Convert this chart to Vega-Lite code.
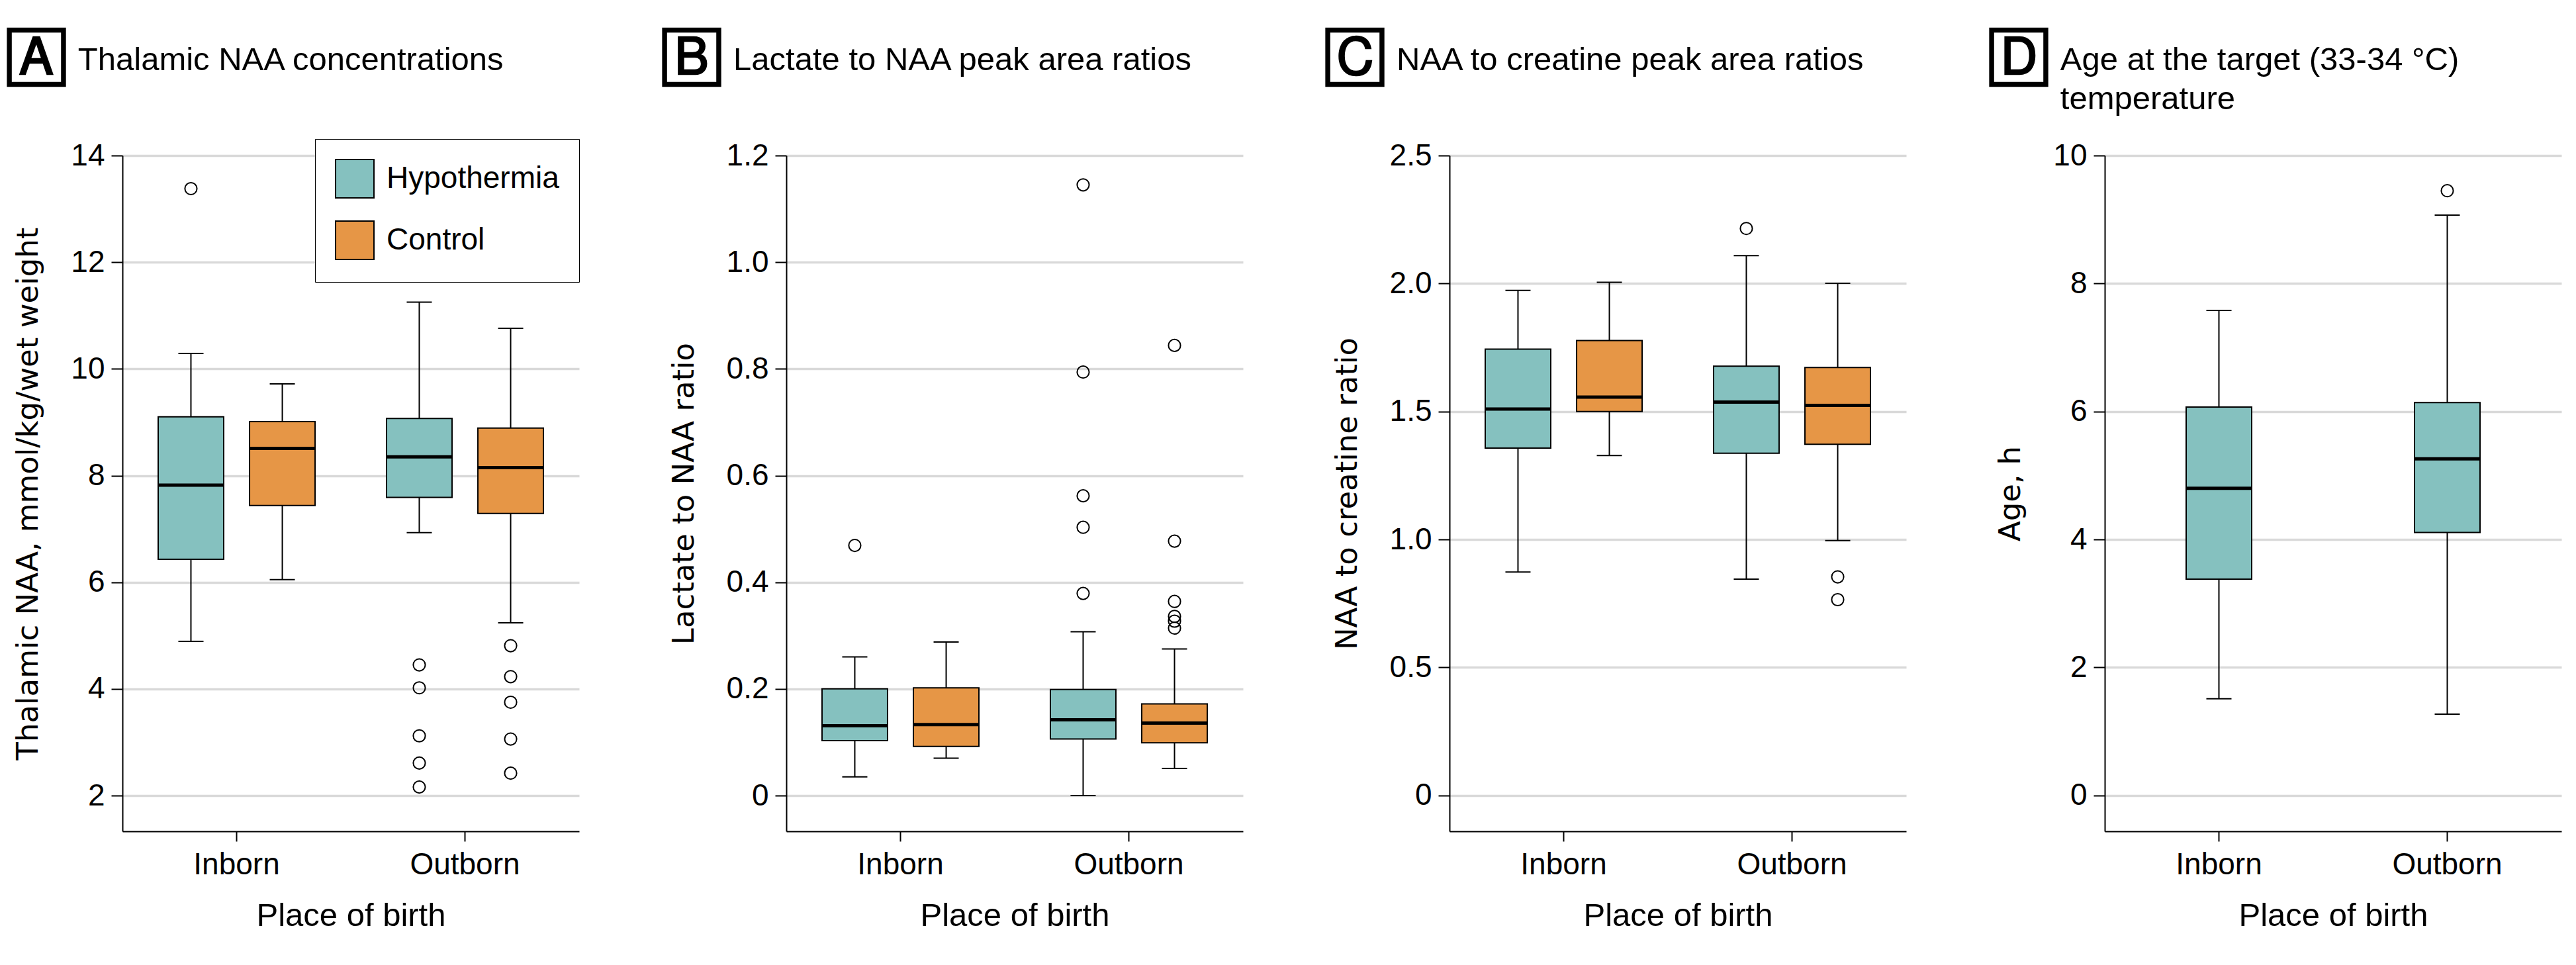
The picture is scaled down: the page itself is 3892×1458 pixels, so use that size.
{
  "$schema": "https://vega.github.io/schema/vega-lite/v6.json",
  "background": "white",
  "padding": {"left": 12, "top": 50, "right": 10, "bottom": 10},
  "datasets": {
    "boxes": [
      {"panel": "A", "place": "Inborn", "group": "Hypothermia", "min": 4.89, "q1": 6.43, "median": 7.82, "q3": 9.10, "max": 10.29},
      {"panel": "A", "place": "Inborn", "group": "Control", "min": 6.05, "q1": 7.44, "median": 8.51, "q3": 9.01, "max": 9.72},
      {"panel": "A", "place": "Outborn", "group": "Hypothermia", "min": 6.93, "q1": 7.59, "median": 8.35, "q3": 9.07, "max": 11.25},
      {"panel": "A", "place": "Outborn", "group": "Control", "min": 5.24, "q1": 7.29, "median": 8.15, "q3": 8.89, "max": 10.76},
      {"panel": "B", "place": "Inborn", "group": "Hypothermia", "min": 0.035, "q1": 0.103, "median": 0.131, "q3": 0.200, "max": 0.260},
      {"panel": "B", "place": "Inborn", "group": "Control", "min": 0.070, "q1": 0.092, "median": 0.133, "q3": 0.202, "max": 0.288},
      {"panel": "B", "place": "Outborn", "group": "Hypothermia", "min": 0.000, "q1": 0.106, "median": 0.142, "q3": 0.199, "max": 0.307},
      {"panel": "B", "place": "Outborn", "group": "Control", "min": 0.051, "q1": 0.099, "median": 0.136, "q3": 0.172, "max": 0.275},
      {"panel": "C", "place": "Inborn", "group": "Hypothermia", "min": 0.873, "q1": 1.357, "median": 1.510, "q3": 1.744, "max": 1.973},
      {"panel": "C", "place": "Inborn", "group": "Control", "min": 1.328, "q1": 1.500, "median": 1.556, "q3": 1.777, "max": 2.005},
      {"panel": "C", "place": "Outborn", "group": "Hypothermia", "min": 0.845, "q1": 1.337, "median": 1.537, "q3": 1.677, "max": 2.109},
      {"panel": "C", "place": "Outborn", "group": "Control", "min": 0.996, "q1": 1.372, "median": 1.524, "q3": 1.672, "max": 2.001},
      {"panel": "D", "place": "Inborn", "group": "Hypothermia", "min": 1.51, "q1": 3.38, "median": 4.80, "q3": 6.07, "max": 7.58},
      {"panel": "D", "place": "Outborn", "group": "Hypothermia", "min": 1.27, "q1": 4.11, "median": 5.26, "q3": 6.14, "max": 9.07}
    ],
    "outliers": [
      {"panel": "A", "place": "Inborn", "group": "Hypothermia", "value": 13.38},
      {"panel": "A", "place": "Outborn", "group": "Hypothermia", "value": 4.45},
      {"panel": "A", "place": "Outborn", "group": "Hypothermia", "value": 4.02},
      {"panel": "A", "place": "Outborn", "group": "Hypothermia", "value": 3.12},
      {"panel": "A", "place": "Outborn", "group": "Hypothermia", "value": 2.61},
      {"panel": "A", "place": "Outborn", "group": "Hypothermia", "value": 2.16},
      {"panel": "A", "place": "Outborn", "group": "Control", "value": 4.81},
      {"panel": "A", "place": "Outborn", "group": "Control", "value": 4.23},
      {"panel": "A", "place": "Outborn", "group": "Control", "value": 3.75},
      {"panel": "A", "place": "Outborn", "group": "Control", "value": 3.06},
      {"panel": "A", "place": "Outborn", "group": "Control", "value": 2.42},
      {"panel": "B", "place": "Inborn", "group": "Hypothermia", "value": 0.469},
      {"panel": "B", "place": "Outborn", "group": "Hypothermia", "value": 1.145},
      {"panel": "B", "place": "Outborn", "group": "Hypothermia", "value": 0.794},
      {"panel": "B", "place": "Outborn", "group": "Hypothermia", "value": 0.562},
      {"panel": "B", "place": "Outborn", "group": "Hypothermia", "value": 0.503},
      {"panel": "B", "place": "Outborn", "group": "Hypothermia", "value": 0.379},
      {"panel": "B", "place": "Outborn", "group": "Control", "value": 0.844},
      {"panel": "B", "place": "Outborn", "group": "Control", "value": 0.477},
      {"panel": "B", "place": "Outborn", "group": "Control", "value": 0.364},
      {"panel": "B", "place": "Outborn", "group": "Control", "value": 0.336},
      {"panel": "B", "place": "Outborn", "group": "Control", "value": 0.327},
      {"panel": "B", "place": "Outborn", "group": "Control", "value": 0.314},
      {"panel": "C", "place": "Outborn", "group": "Hypothermia", "value": 2.215},
      {"panel": "C", "place": "Outborn", "group": "Control", "value": 0.854},
      {"panel": "C", "place": "Outborn", "group": "Control", "value": 0.765},
      {"panel": "D", "place": "Outborn", "group": "Hypothermia", "value": 9.45}
    ]
  },
  "spacing": 127,
  "resolve": {"scale": {"color": "independent", "y": "independent"}, "legend": {"color": "independent"}},
  "hconcat": [
    {
      "title": {"text": "🄰", "anchor": "start", "frame": "bounds", "font": "DejaVu Sans", "fontSize": 77, "fontWeight": "bold", "color": "black", "offset": -61.5, "dx": -8},
      "vconcat": [
        {
          "width": 690, "height": 1021,
          "title": {"text": "Thalamic NAA concentrations", "anchor": "start", "frame": "bounds", "font": "Liberation Sans", "fontSize": 49, "fontWeight": "normal", "color": "black", "offset": 96.5, "dx": 97, "lineHeight": 59},
          "layer": [
            {"data": {"name": "boxes"}, "transform": [{"filter": "datum.panel === 'A'"}],
             "mark": {"type": "rule", "color": "black", "strokeWidth": 2},
             "encoding": {
               "x": {"field": "place", "type": "nominal", "title": "Place of birth", "scale": {"domain": ["Inborn", "Outborn"], "paddingInner": 0, "paddingOuter": 0}},
               "xOffset": {"field": "group", "type": "nominal", "scale": {"domain": ["Hypothermia", "Control"], "paddingInner": 0.283, "paddingOuter": 0.391}},
               "y": {"field": "min", "type": "quantitative", "title": "Thalamic NAA, mmol/kg/wet weight", "scale": {"domain": [1.33, 14], "nice": false, "zero": false}, "axis": {"values": [2, 4, 6, 8, 10, 12, 14], "format": "d"}},
               "y2": {"field": "max"}}},
            {"data": {"name": "boxes"}, "transform": [{"filter": "datum.panel === 'A'"}],
             "mark": {"type": "tick", "color": "black", "thickness": 2, "size": 38, "opacity": 1},
             "encoding": {
               "x": {"field": "place", "type": "nominal", "title": "Place of birth"},
               "xOffset": {"field": "group", "type": "nominal"},
               "y": {"field": "min", "type": "quantitative", "title": "Thalamic NAA, mmol/kg/wet weight"}}},
            {"data": {"name": "boxes"}, "transform": [{"filter": "datum.panel === 'A'"}],
             "mark": {"type": "tick", "color": "black", "thickness": 2, "size": 38, "opacity": 1},
             "encoding": {
               "x": {"field": "place", "type": "nominal", "title": "Place of birth"},
               "xOffset": {"field": "group", "type": "nominal"},
               "y": {"field": "max", "type": "quantitative", "title": "Thalamic NAA, mmol/kg/wet weight"}}},
            {"data": {"name": "boxes"}, "transform": [{"filter": "datum.panel === 'A'"}],
             "mark": {"type": "bar", "stroke": "black", "strokeWidth": 2, "opacity": 1},
             "encoding": {
               "x": {"field": "place", "type": "nominal", "title": "Place of birth"},
               "xOffset": {"field": "group", "type": "nominal"},
               "y": {"field": "q1", "type": "quantitative", "title": "Thalamic NAA, mmol/kg/wet weight"},
               "y2": {"field": "q3"},
               "color": {"field": "group", "type": "nominal", "scale": {"domain": ["Hypothermia", "Control"], "range": ["#85C1BF", "#E69646"]},
                         "legend": {"orient": "none", "legendX": 291, "legendY": -25, "title": null}}}},
            {"data": {"name": "boxes"}, "transform": [{"filter": "datum.panel === 'A'"}],
             "mark": {"type": "tick", "color": "black", "thickness": 5, "size": 99, "opacity": 1},
             "encoding": {
               "x": {"field": "place", "type": "nominal", "title": "Place of birth"},
               "xOffset": {"field": "group", "type": "nominal"},
               "y": {"field": "median", "type": "quantitative", "title": "Thalamic NAA, mmol/kg/wet weight"}}},
            {"data": {"name": "outliers"}, "transform": [{"filter": "datum.panel === 'A'"}],
             "mark": {"type": "point", "shape": "circle", "filled": false, "color": "black", "strokeWidth": 2, "size": 330, "opacity": 1},
             "encoding": {
               "x": {"field": "place", "type": "nominal", "title": "Place of birth"},
               "xOffset": {"field": "group", "type": "nominal"},
               "y": {"field": "value", "type": "quantitative", "title": "Thalamic NAA, mmol/kg/wet weight"}}}
          ]
        }
      ]
    },
    {
      "title": {"text": "🄱", "anchor": "start", "frame": "bounds", "font": "DejaVu Sans", "fontSize": 77, "fontWeight": "bold", "color": "black", "offset": -61.5, "dx": -8},
      "vconcat": [
        {
          "width": 690, "height": 1021,
          "title": {"text": "Lactate to NAA peak area ratios", "anchor": "start", "frame": "bounds", "font": "Liberation Sans", "fontSize": 49, "fontWeight": "normal", "color": "black", "offset": 96.5, "dx": 97, "lineHeight": 59},
          "layer": [
            {"data": {"name": "boxes"}, "transform": [{"filter": "datum.panel === 'B'"}],
             "mark": {"type": "rule", "color": "black", "strokeWidth": 2},
             "encoding": {
               "x": {"field": "place", "type": "nominal", "title": "Place of birth", "scale": {"domain": ["Inborn", "Outborn"], "paddingInner": 0, "paddingOuter": 0}},
               "xOffset": {"field": "group", "type": "nominal", "scale": {"domain": ["Hypothermia", "Control"], "paddingInner": 0.283, "paddingOuter": 0.391}},
               "y": {"field": "min", "type": "quantitative", "title": "Lactate to NAA ratio", "scale": {"domain": [-0.067, 1.2], "nice": false, "zero": false}, "axis": {"values": [0, 0.2, 0.4, 0.6, 0.8, 1.0, 1.2], "labelExpr": "datum.value === 0 ? '0' : format(datum.value, '.1f')"}},
               "y2": {"field": "max"}}},
            {"data": {"name": "boxes"}, "transform": [{"filter": "datum.panel === 'B'"}],
             "mark": {"type": "tick", "color": "black", "thickness": 2, "size": 38, "opacity": 1},
             "encoding": {
               "x": {"field": "place", "type": "nominal", "title": "Place of birth"},
               "xOffset": {"field": "group", "type": "nominal"},
               "y": {"field": "min", "type": "quantitative", "title": "Lactate to NAA ratio"}}},
            {"data": {"name": "boxes"}, "transform": [{"filter": "datum.panel === 'B'"}],
             "mark": {"type": "tick", "color": "black", "thickness": 2, "size": 38, "opacity": 1},
             "encoding": {
               "x": {"field": "place", "type": "nominal", "title": "Place of birth"},
               "xOffset": {"field": "group", "type": "nominal"},
               "y": {"field": "max", "type": "quantitative", "title": "Lactate to NAA ratio"}}},
            {"data": {"name": "boxes"}, "transform": [{"filter": "datum.panel === 'B'"}],
             "mark": {"type": "bar", "stroke": "black", "strokeWidth": 2, "opacity": 1},
             "encoding": {
               "x": {"field": "place", "type": "nominal", "title": "Place of birth"},
               "xOffset": {"field": "group", "type": "nominal"},
               "y": {"field": "q1", "type": "quantitative", "title": "Lactate to NAA ratio"},
               "y2": {"field": "q3"},
               "color": {"field": "group", "type": "nominal", "scale": {"domain": ["Hypothermia", "Control"], "range": ["#85C1BF", "#E69646"]}, "legend": null}}},
            {"data": {"name": "boxes"}, "transform": [{"filter": "datum.panel === 'B'"}],
             "mark": {"type": "tick", "color": "black", "thickness": 5, "size": 99, "opacity": 1},
             "encoding": {
               "x": {"field": "place", "type": "nominal", "title": "Place of birth"},
               "xOffset": {"field": "group", "type": "nominal"},
               "y": {"field": "median", "type": "quantitative", "title": "Lactate to NAA ratio"}}},
            {"data": {"name": "outliers"}, "transform": [{"filter": "datum.panel === 'B'"}],
             "mark": {"type": "point", "shape": "circle", "filled": false, "color": "black", "strokeWidth": 2, "size": 330, "opacity": 1},
             "encoding": {
               "x": {"field": "place", "type": "nominal", "title": "Place of birth"},
               "xOffset": {"field": "group", "type": "nominal"},
               "y": {"field": "value", "type": "quantitative", "title": "Lactate to NAA ratio"}}}
          ]
        }
      ]
    },
    {
      "title": {"text": "🄲", "anchor": "start", "frame": "bounds", "font": "DejaVu Sans", "fontSize": 77, "fontWeight": "bold", "color": "black", "offset": -61.5, "dx": -8},
      "vconcat": [
        {
          "width": 690, "height": 1021,
          "title": {"text": "NAA to creatine peak area ratios", "anchor": "start", "frame": "bounds", "font": "Liberation Sans", "fontSize": 49, "fontWeight": "normal", "color": "black", "offset": 96.5, "dx": 97, "lineHeight": 59},
          "layer": [
            {"data": {"name": "boxes"}, "transform": [{"filter": "datum.panel === 'C'"}],
             "mark": {"type": "rule", "color": "black", "strokeWidth": 2},
             "encoding": {
               "x": {"field": "place", "type": "nominal", "title": "Place of birth", "scale": {"domain": ["Inborn", "Outborn"], "paddingInner": 0, "paddingOuter": 0}},
               "xOffset": {"field": "group", "type": "nominal", "scale": {"domain": ["Hypothermia", "Control"], "paddingInner": 0.283, "paddingOuter": 0.391}},
               "y": {"field": "min", "type": "quantitative", "title": "NAA to creatine ratio", "scale": {"domain": [-0.14, 2.5], "nice": false, "zero": false}, "axis": {"values": [0, 0.5, 1.0, 1.5, 2.0, 2.5], "labelExpr": "datum.value === 0 ? '0' : format(datum.value, '.1f')"}},
               "y2": {"field": "max"}}},
            {"data": {"name": "boxes"}, "transform": [{"filter": "datum.panel === 'C'"}],
             "mark": {"type": "tick", "color": "black", "thickness": 2, "size": 38, "opacity": 1},
             "encoding": {
               "x": {"field": "place", "type": "nominal", "title": "Place of birth"},
               "xOffset": {"field": "group", "type": "nominal"},
               "y": {"field": "min", "type": "quantitative", "title": "NAA to creatine ratio"}}},
            {"data": {"name": "boxes"}, "transform": [{"filter": "datum.panel === 'C'"}],
             "mark": {"type": "tick", "color": "black", "thickness": 2, "size": 38, "opacity": 1},
             "encoding": {
               "x": {"field": "place", "type": "nominal", "title": "Place of birth"},
               "xOffset": {"field": "group", "type": "nominal"},
               "y": {"field": "max", "type": "quantitative", "title": "NAA to creatine ratio"}}},
            {"data": {"name": "boxes"}, "transform": [{"filter": "datum.panel === 'C'"}],
             "mark": {"type": "bar", "stroke": "black", "strokeWidth": 2, "opacity": 1},
             "encoding": {
               "x": {"field": "place", "type": "nominal", "title": "Place of birth"},
               "xOffset": {"field": "group", "type": "nominal"},
               "y": {"field": "q1", "type": "quantitative", "title": "NAA to creatine ratio"},
               "y2": {"field": "q3"},
               "color": {"field": "group", "type": "nominal", "scale": {"domain": ["Hypothermia", "Control"], "range": ["#85C1BF", "#E69646"]}, "legend": null}}},
            {"data": {"name": "boxes"}, "transform": [{"filter": "datum.panel === 'C'"}],
             "mark": {"type": "tick", "color": "black", "thickness": 5, "size": 99, "opacity": 1},
             "encoding": {
               "x": {"field": "place", "type": "nominal", "title": "Place of birth"},
               "xOffset": {"field": "group", "type": "nominal"},
               "y": {"field": "median", "type": "quantitative", "title": "NAA to creatine ratio"}}},
            {"data": {"name": "outliers"}, "transform": [{"filter": "datum.panel === 'C'"}],
             "mark": {"type": "point", "shape": "circle", "filled": false, "color": "black", "strokeWidth": 2, "size": 330, "opacity": 1},
             "encoding": {
               "x": {"field": "place", "type": "nominal", "title": "Place of birth"},
               "xOffset": {"field": "group", "type": "nominal"},
               "y": {"field": "value", "type": "quantitative", "title": "NAA to creatine ratio"}}}
          ]
        }
      ]
    },
    {
      "title": {"text": "🄳", "anchor": "start", "frame": "bounds", "font": "DejaVu Sans", "fontSize": 77, "fontWeight": "bold", "color": "black", "offset": -61.5, "dx": -8},
      "vconcat": [
        {
          "width": 690, "height": 1021,
          "title": {"text": ["Age at the target (33-34 °C)", "temperature"], "anchor": "start", "frame": "bounds", "font": "Liberation Sans", "fontSize": 49, "fontWeight": "normal", "color": "black", "offset": 37.5, "dx": 97, "lineHeight": 59},
          "layer": [
            {"data": {"name": "boxes"}, "transform": [{"filter": "datum.panel === 'D'"}],
             "mark": {"type": "rule", "color": "black", "strokeWidth": 2},
             "encoding": {
               "x": {"field": "place", "type": "nominal", "title": "Place of birth", "scale": {"domain": ["Inborn", "Outborn"], "paddingInner": 0, "paddingOuter": 0}},
               "y": {"field": "min", "type": "quantitative", "title": "Age, h", "scale": {"domain": [-0.56, 10], "nice": false, "zero": false}, "axis": {"values": [0, 2, 4, 6, 8, 10], "format": "d"}},
               "y2": {"field": "max"}}},
            {"data": {"name": "boxes"}, "transform": [{"filter": "datum.panel === 'D'"}],
             "mark": {"type": "tick", "color": "black", "thickness": 2, "size": 38, "opacity": 1},
             "encoding": {
               "x": {"field": "place", "type": "nominal", "title": "Place of birth"},
               "y": {"field": "min", "type": "quantitative", "title": "Age, h"}}},
            {"data": {"name": "boxes"}, "transform": [{"filter": "datum.panel === 'D'"}],
             "mark": {"type": "tick", "color": "black", "thickness": 2, "size": 38, "opacity": 1},
             "encoding": {
               "x": {"field": "place", "type": "nominal", "title": "Place of birth"},
               "y": {"field": "max", "type": "quantitative", "title": "Age, h"}}},
            {"data": {"name": "boxes"}, "transform": [{"filter": "datum.panel === 'D'"}],
             "mark": {"type": "bar", "stroke": "black", "strokeWidth": 2, "opacity": 1, "width": 99, "color": "#85C1BF"},
             "encoding": {
               "x": {"field": "place", "type": "nominal", "title": "Place of birth"},
               "y": {"field": "q1", "type": "quantitative", "title": "Age, h"},
               "y2": {"field": "q3"}}},
            {"data": {"name": "boxes"}, "transform": [{"filter": "datum.panel === 'D'"}],
             "mark": {"type": "tick", "color": "black", "thickness": 5, "size": 99, "opacity": 1},
             "encoding": {
               "x": {"field": "place", "type": "nominal", "title": "Place of birth"},
               "y": {"field": "median", "type": "quantitative", "title": "Age, h"}}},
            {"data": {"name": "outliers"}, "transform": [{"filter": "datum.panel === 'D'"}],
             "mark": {"type": "point", "shape": "circle", "filled": false, "color": "black", "strokeWidth": 2, "size": 330, "opacity": 1},
             "encoding": {
               "x": {"field": "place", "type": "nominal", "title": "Place of birth"},
               "y": {"field": "value", "type": "quantitative", "title": "Age, h"}}}
          ]
        }
      ]
    }
  ],
  "config": {
    "view": {"stroke": null},
    "font": "Liberation Sans",
    "axis": {"domainColor": "black", "domainWidth": 2, "tickColor": "black", "tickWidth": 2, "labelColor": "black", "titleColor": "black", "labelFontSize": 46, "titleFontWeight": "normal", "gridColor": "#d9d9d9", "gridWidth": 3.5},
    "axisY": {"tickSize": 17, "labelPadding": 10, "titleFont": "DejaVu Sans", "titleFontSize": 45, "titlePadding": 41, "grid": true},
    "axisX": {"tickSize": 15, "labelPadding": 13, "labelFontSize": 46, "titleFont": "Liberation Sans", "titleFontSize": 49, "titlePadding": 30, "grid": false, "labelAngle": 0},
    "legend": {"symbolType": "square", "symbolSize": 3364, "symbolStrokeColor": "black", "symbolStrokeWidth": 2, "symbolOpacity": 1, "labelFontSize": 46, "labelColor": "black", "labelOffset": 18, "labelLimit": 0, "strokeColor": "black", "padding": 30, "rowPadding": 27, "fillColor": "white"}
  }
}
